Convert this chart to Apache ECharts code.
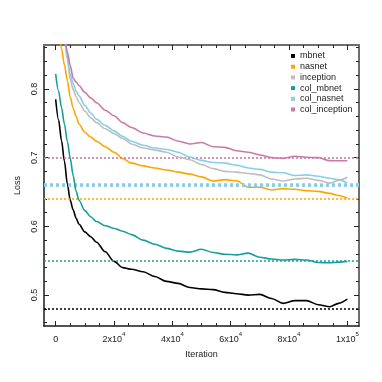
<!DOCTYPE html>
<html><head><meta charset="utf-8">
<script src="https://cdn.jsdelivr.net/npm/echarts@6/dist/echarts.min.js"></script>
<style>html,body{margin:0;padding:0;background:#fff}#c{width:382px;height:382px}</style>
</head><body><div id="c"></div>
<script>
const seriesNames = ['mbnet','nasnet','inception','col_mbnet','col_nasnet','col_inception'];
const iterations = [0,1000,2000,3000,4000,5000,6000,7000,8000,10000,12000,14000,17000,20000,23000,26000,30000,34000,38000,42000,46000,50000,54000,58000,62000,66000,70000,74000,78000,82000,86000,90000,94000,97000,100000];
const mbnet = [0.785,0.755,0.725,0.695,0.662,0.638,0.624,0.612,0.603,0.592,0.585,0.577,0.563,0.549,0.540,0.5375,0.534,0.527,0.520,0.517,0.511,0.509,0.508,0.504,0.502,0.500,0.501,0.495,0.488,0.492,0.492,0.486,0.483,0.488,0.494];
const nasnet = [0.906,0.882,0.859,0.835,0.812,0.788,0.772,0.760,0.749,0.737,0.730,0.724,0.716,0.708,0.699,0.692,0.688,0.685,0.682,0.679,0.676,0.672,0.666,0.668,0.6665,0.657,0.657,0.653,0.655,0.654,0.652,0.651,0.648,0.645,0.641];
const inception = [0.96,0.93,0.90,0.873,0.843,0.814,0.799,0.789,0.780,0.768,0.758,0.751,0.742,0.735,0.728,0.720,0.714,0.711,0.708,0.701,0.697,0.690,0.684,0.680,0.679,0.677,0.675,0.669,0.666,0.669,0.670,0.667,0.663,0.667,0.6715];
const colMbnet = [0.822,0.797,0.773,0.749,0.724,0.699,0.674,0.651,0.638,0.623,0.614,0.607,0.601,0.597,0.593,0.588,0.580,0.574,0.568,0.564,0.5625,0.5667,0.562,0.5595,0.5585,0.561,0.555,0.5525,0.551,0.552,0.551,0.5475,0.547,0.548,0.549];
const colNasnet = [0.96,0.93,0.90,0.876,0.848,0.821,0.808,0.797,0.790,0.776,0.765,0.756,0.747,0.739,0.731,0.724,0.718,0.714,0.712,0.708,0.701,0.696,0.693,0.692,0.689,0.685,0.683,0.679,0.678,0.674,0.675,0.673,0.670,0.668,0.663];
const colInception = [0.98,0.95,0.92,0.876,0.854,0.834,0.816,0.810,0.805,0.795,0.787,0.780,0.769,0.761,0.751,0.744,0.736,0.7316,0.730,0.724,0.720,0.722,0.716,0.715,0.710,0.708,0.704,0.700,0.699,0.702,0.7006,0.700,0.6957,0.6955,0.6955];
const asymptotes = [0.482,0.641,0.6632,0.5475,0.6648,0.6955];
const xMajorTicks = [0,20000,40000,60000,80000,100000];
const xTickLabels = ['{b|0}','{b|2x10}{s|4}','{b|4x10}{s|4}','{b|6x10}{s|4}','{b|8x10}{s|4}','{b|1x10}{s|5}'];
const xMinorTicks = [0,5000,10000,15000,20000,25000,30000,35000,40000,45000,50000,55000,60000,65000,70000,75000,80000,85000,90000,95000,100000];
const yMajorTicks = [0.5,0.6,0.7,0.8];
const yTickLabels = ['0.5','0.6','0.7','0.8'];
const yMinorTicks = [0.46,0.48,0.5,0.52,0.54,0.56,0.58,0.6,0.62,0.64,0.66,0.68,0.7,0.72,0.74,0.76,0.78,0.8,0.82,0.84,0.86];

const colors = ['#000000','#FFA500','#BEBEBE','#169E9E','#87CEEB','#CC79A7'];
const dotWidths = [1.6,1.6,2.5,1.6,3.5,1.6];
const values = [mbnet,nasnet,inception,colMbnet,colNasnet,colInception];
const FONT = 'Liberation Sans, Arial, sans-serif';

const xRange = {min:-4000, max:104000};
const yRange = {min:0.455, max:0.864};

function xAxisDef(pos, ticks, len, showLabel, lineColor, lineW){
  return {type:'value', position:pos, min:xRange.min, max:xRange.max,
    splitLine:{show:false},
    axisLine:{show:lineColor!==null, onZero:false, lineStyle:{color:lineColor||'#000', width:lineW||1}},
    axisTick:{show:true, inside:true, length:len, customValues:ticks, lineStyle:{color:'#222', width:1}},
    axisLabel:{show:showLabel, customValues:ticks, margin:5, fontFamily:FONT, color:'#222',
      formatter:function(v){const i=xMajorTicks.indexOf(v);return i>=0?xTickLabels[i]:'';},
      rich:{b:{fontSize:9,fontFamily:FONT,color:'#222',lineHeight:13,verticalAlign:'bottom'},
            s:{fontSize:6,fontFamily:FONT,color:'#222',lineHeight:13,verticalAlign:'top'}}}
  };
}
function yAxisDef(pos, ticks, len, showLabel, lineColor, lineW){
  return {type:'value', position:pos, min:yRange.min, max:yRange.max,
    splitLine:{show:false},
    axisLine:{show:lineColor!==null, onZero:false, lineStyle:{color:lineColor||'#000', width:lineW||1}},
    axisTick:{show:true, inside:true, length:len, customValues:ticks, lineStyle:{color:'#222', width:1}},
    axisLabel:{show:showLabel, customValues:ticks, rotate:90, margin:5, fontSize:9, fontFamily:FONT, color:'#222',
      formatter:function(v){const i=yMajorTicks.findIndex(t=>Math.abs(t-v)<1e-9);return i>=0?yTickLabels[i]:'';}}
  };
}

const xAxes = [
  Object.assign(xAxisDef('bottom', xMajorTicks, 5, true, '#1a1a1a', 1.5), {name:'Iteration', nameLocation:'middle', nameGap:24, nameTextStyle:{fontSize:9, fontFamily:FONT, color:'#222'}}),
  xAxisDef('bottom', xMinorTicks, 3, false, null),
  xAxisDef('top', xMajorTicks, 5, false, '#6e6e6e', 2),
  xAxisDef('top', xMinorTicks, 3, false, null)
];
const yAxes = [
  Object.assign(yAxisDef('left', yMajorTicks, 5, true, '#1a1a1a', 1.5), {name:'Loss', nameLocation:'middle', nameGap:22, nameTextStyle:{fontSize:9, fontFamily:FONT, color:'#222'}}),
  yAxisDef('left', yMinorTicks, 3, false, null),
  yAxisDef('right', yMajorTicks, 5, false, '#6e6e6e', 2),
  yAxisDef('right', yMinorTicks, 3, false, null)
];

const series = seriesNames.map(function(name, k){
  return {
    name:name, type:'line', xAxisIndex:0, yAxisIndex:0,
    data: iterations.map(function(x,i){return [x, values[k][i]];}),
    showSymbol:false, symbol:'none', smooth:0.3, smoothMonotone:'x',
    lineStyle:{color:colors[k], width:1.6}, itemStyle:{color:colors[k]},
    z: 3 + k,
    markLine:{silent:true, symbol:['none','none'], label:{show:false},
      lineStyle:{color:colors[k], width:dotWidths[k], type:[dotWidths[k]>2?3:2, dotWidths[k]>2?3:2], cap:'butt'},
      data:[{yAxis:asymptotes[k]}], animation:false}
  };
});

const chart = echarts.init(document.getElementById('c'), null, {renderer:'canvas'});
chart.setOption({
  animation:false,
  backgroundColor:'#fff',
  grid:{left:44, right:23, top:45, bottom:56, containLabel:false},
  xAxis:xAxes,
  yAxis:yAxes,
  legend:{orient:'vertical', left:291, top:51, padding:0, icon:'rect', itemWidth:4, itemHeight:4, itemGap:0.7,
    textStyle:{fontSize:9, fontFamily:FONT, color:'#222', lineHeight:10}, data:seriesNames},
  series:series
});
</script></body></html>
